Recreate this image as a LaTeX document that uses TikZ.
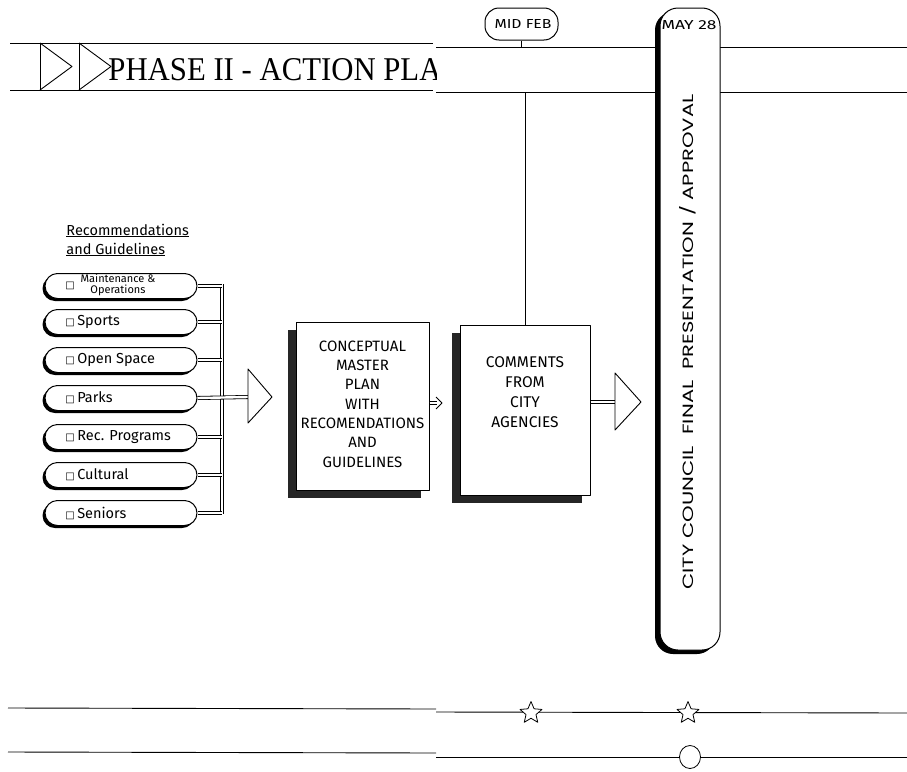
\documentclass[tikz,border=0pt]{standalone}
\usepackage{fontspec}
\setmainfont{Liberation Serif}
\newfontfamily\handf{Fira Sans}
\newfontfamily\geof{Poppins}
\newfontfamily\symf{DejaVu Sans}
\usetikzlibrary{shapes.geometric,shapes.misc,shadows}
\newcommand{\sqb}{{\symf\fontsize{10}{10}\selectfont □}}
\begin{document}
\begin{tikzpicture}[x=1pt,y=-1pt,line width=0.9pt,line join=round,
  dbl/.style={draw,double=white,double distance=2.4pt,line width=0.8pt},
  pill/.style={rounded rectangle,draw,fill=white,minimum width=152pt,minimum height=25pt,inner sep=0pt,line width=1pt,
    drop shadow={shadow xshift=-2.5pt,shadow yshift=-2.5pt,fill=black,opacity=1}},
  pilltxt/.style={anchor=west,inner sep=0pt,font=\handf\fontsize{14.5}{14.5}\selectfont},
  box/.style={draw,fill=white,line width=1pt,align=center,
    drop shadow={shadow xshift=-8pt,shadow yshift=-8pt,fill=black!85,opacity=1}},
  boxtxt/.style={align=center,inner sep=0pt,font=\handf\fontsize{15}{19.3}\selectfont},
  capt/.style={inner sep=0pt,font=\handf},
  hollow/.style={draw,fill=white,line width=0.9pt}]
\useasboundingbox (0,0) rectangle (907,771);
% top band
\draw (10,43) -- (433,43);
\draw (10,90) -- (433,90);
\draw (436,47) -- (907,47);
\draw (436,92) -- (907,92);
\draw (40,43) -- (40,90);
\draw (40,43) -- (72,66.5) -- (40,90);
\draw (79,43) -- (79,90);
\draw (79,43) -- (111,66.5) -- (79,90);
\begin{scope}
\clip (0,0) rectangle (436,771);
\node[anchor=base west,inner sep=0pt] (title) at (108,80) {\resizebox{333pt}{22pt}{PHASE II - ACTION PLA}};
\end{scope}
% milestones
\node[draw,rounded corners=14pt,fill=white,minimum width=73pt,minimum height=32pt,line width=1pt] (mf) at (521.5,24) {};
\node[capt] (mft) at (523,24) {\resizebox{57pt}{9pt}{MID FEB}};
\draw (mf.south) -- (mf.south |- 0,47);
% bottom lines
\draw (8,708) -- (436,709);
\draw (436,712) -- (907,713);
\draw (8,752) -- (436,753);
\draw (436,757) -- (907,757);
\node[star,star points=5,star point ratio=2.2,draw,fill=white,minimum size=23pt,inner sep=0pt,line width=0.8pt] (s1) at (531,713) {};
\node[star,star points=5,star point ratio=2.2,draw,fill=white,minimum size=23pt,inner sep=0pt,line width=0.8pt] (s2) at (688,713) {};
\node[ellipse,draw,fill=white,minimum width=21pt,minimum height=23pt,inner sep=0pt,line width=0.8pt] (c1) at (690,757) {};
% big vertical pill
\node[draw,fill=white,rounded corners=18pt,minimum width=60pt,minimum height=642pt,line width=1pt,
  drop shadow={shadow xshift=-5pt,shadow yshift=-4pt,fill=black,opacity=1}] (cc) at (690,329) {};
\node[capt] (may) at (689,25) {\resizebox{55pt}{9pt}{MAY 28}};
\node[inner sep=0pt,rotate=90,font=\geof] (cct) at (688,342) {\resizebox{495pt}{14pt}{CITY COUNCIL\ \ FINAL\ \ PRESENTATION / APPROVAL}};
% recommendations header
\node[anchor=base west,inner sep=0pt,font=\handf\fontsize{14.5}{14.5}\selectfont] (rh1) at (66,235) {\underline{Recommendations}};
\node[anchor=base west,inner sep=0pt,font=\handf\fontsize{14.5}{14.5}\selectfont] (rh2) at (66,254) {\underline{and Guidelines}};
% pills
\node[pill] (p1) at (121,286) {};
\node[pill] (p2) at (121,322) {};
\node[pill] (p3) at (121,360) {};
\node[pill] (p4) at (121,398) {};
\node[pill] (p5) at (121,437) {};
\node[pill] (p6) at (121,475) {};
\node[pill] (p7) at (121,513) {};
\node[inner sep=0pt] (q1) at (70,286) {\sqb};
\node[align=center,inner sep=0pt,font=\handf\fontsize{11}{11}\selectfont] (t1) at (118,285) {Maintenance \&\\Operations};
\node[pilltxt] (t2) at (65,322) {\sqb\,Sports};
\node[pilltxt] (t3) at (65,360) {\sqb\,Open Space};
\node[pilltxt] (t4) at (65,398) {\sqb\,Parks};
\node[pilltxt] (t5) at (65,437) {\sqb\,Rec. Programs};
\node[pilltxt] (t6) at (65,475) {\sqb\,Cultural};
\node[pilltxt] (t7) at (65,513) {\sqb\,Seniors};
% bracket
\coordinate (bt) at (222,284);
\coordinate (bb) at (222,514);
\draw[dbl] (bt) -- (bb);
\foreach \i in {1,2,3,5,6,7} {\draw[dbl] (p\i.east) -- (p\i.east -| bt);}
\coordinate (a1) at (248,397);
\draw[dbl] (p4.east) -- (a1);
\draw[hollow] (a1) ++(0,-28) -- ++(24,28) -- ++(-24,26) -- cycle;
% conceptual box
\node[box,minimum width=133pt,minimum height=168pt] (cmp) at (362.5,406) {};
\node[boxtxt] (cmpt) at (362.5,404) {CONCEPTUAL\\MASTER\\PLAN\\WITH\\RECOMENDATIONS\\AND\\GUIDELINES};
% small arrow
\coordinate (a2) at (437,403);
\draw[dbl] (cmp.east |- a2) -- (a2);
\draw (436,397) -- (442,403) -- (436,409);
% comments box
\node[box,minimum width=130pt,minimum height=170pt] (cm) at (525,410) {};
\node[boxtxt,font=\handf\fontsize{15.5}{20}\selectfont] (cmt) at (525,392) {COMMENTS\\FROM\\CITY\\AGENCIES};
\draw (cm.north) -- (cm.north |- 0,92);
\coordinate (a3) at (615,402);
\draw[dbl] (cm.east |- a3) -- (a3);
\draw[hollow] (a3) ++(0,-29) -- ++(26,29) -- ++(-26,28) -- cycle;
\end{tikzpicture}
\end{document}
